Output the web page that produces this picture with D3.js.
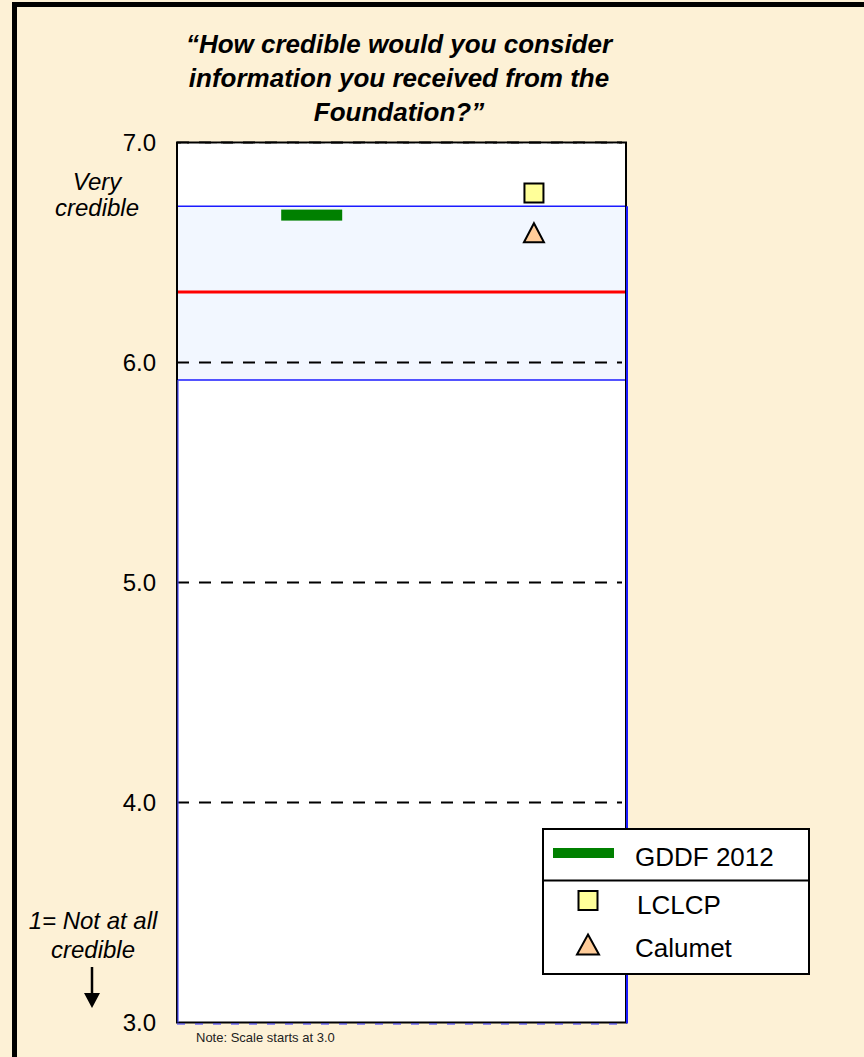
<!DOCTYPE html>
<html>
<head>
<meta charset="utf-8">
<script src="https://cdn.jsdelivr.net/npm/d3@7"></script>
<style>
  html, body { margin: 0; padding: 0; background: #FDF1D6; }
  svg { display: block; font-family: "Liberation Sans", Arial, sans-serif; }
</style>
</head>
<body>
<svg id="chart" width="864" height="1057"></svg>
<script>
// Survey question and scale
const titleLines = ["\u201CHow credible would you consider", "information you received from the", "Foundation?\u201D"];
const yTicks = [3, 4, 5, 6, 7];
const yDomain = [3, 7];

// Foundation result (drawn as a bar) and comparison organisations (markers)
const categories = ["GDDF 2012", "LCLCP", "Calumet"];
const values = [6.67, 6.77, 6.59];
const xSlots = [1.2, 3.18, 3.18];     // horizontal slot of each entry on a 0..4 axis
const markerTypes = ["bar", "square", "triangle"];

// Reference range and average of the comparison set
const rangeBand = [5.92, 6.71];
const averageLine = 6.32;

const svg = d3.select("#chart");

// outer frame
svg.append("rect").attr("x", 14.5).attr("y", 4.5).attr("width", 900).attr("height", 1100)
  .attr("fill", "#FDF1D6").attr("stroke", "#000").attr("stroke-width", 5);

const plot = { left: 177, right: 626, top: 142.5, bottom: 1022.5 };
const y = d3.scaleLinear().domain(yDomain).range([plot.bottom, plot.top]);
const x = d3.scaleLinear().domain([0, 4]).range([plot.left, plot.right]);

// title
svg.append("text")
  .attr("x", 399).attr("y", 53)
  .attr("text-anchor", "middle")
  .attr("font-size", 26).attr("font-weight", "bold").attr("font-style", "italic")
  .selectAll("tspan").data(titleLines).join("tspan")
  .attr("x", 399).attr("dy", (d, i) => i === 0 ? 0 : 34.2)
  .text(d => d);

// plot background
svg.append("rect").attr("x", plot.left).attr("y", plot.top)
  .attr("width", plot.right - plot.left).attr("height", plot.bottom - plot.top)
  .attr("fill", "#fff");

// comparison range band
svg.append("rect")
  .attr("x", plot.left).attr("width", plot.right - plot.left)
  .attr("y", y(rangeBand[1])).attr("height", y(rangeBand[0]) - y(rangeBand[1]))
  .attr("fill", "#F2F7FF");

// dashed gridlines
svg.append("g").selectAll("line").data(yTicks.filter(d => d > 3)).join("line")
  .attr("x1", plot.left).attr("x2", plot.right - 4)
  .attr("y1", d => y(d)).attr("y2", d => y(d))
  .attr("stroke", "#000").attr("stroke-width", 2)
  .attr("stroke-dasharray", "12,10");

// band edges
svg.append("g").selectAll("line").data(rangeBand).join("line")
  .attr("x1", plot.left).attr("x2", plot.right)
  .attr("y1", d => y(d)).attr("y2", d => y(d))
  .attr("stroke", "#1a1aff").attr("stroke-width", 1.5);

// average line
svg.append("line")
  .attr("x1", plot.left).attr("x2", plot.right)
  .attr("y1", y(averageLine)).attr("y2", y(averageLine))
  .attr("stroke", "#FF0000").attr("stroke-width", 3);

// plot frame
svg.append("rect").attr("x", plot.left).attr("y", plot.top)
  .attr("width", plot.right - plot.left).attr("height", plot.bottom - plot.top)
  .attr("fill", "none").attr("stroke", "#000").attr("stroke-width", 2);
svg.append("line")
  .attr("x1", plot.left + 4).attr("x2", plot.right - 2)
  .attr("y1", plot.top + 2).attr("y2", plot.top + 2)
  .attr("stroke", "#fff").attr("stroke-width", 1.5).attr("stroke-dasharray", "6,12").attr("opacity", 0.8);
svg.append("line")
  .attr("x1", plot.right + 1).attr("x2", plot.right + 1)
  .attr("y1", y(rangeBand[1])).attr("y2", plot.bottom + 1)
  .attr("stroke", "#1a1aff").attr("stroke-width", 2);
svg.append("line")
  .attr("x1", plot.left + 1).attr("x2", plot.left + 1)
  .attr("y1", y(rangeBand[0])).attr("y2", plot.bottom)
  .attr("stroke", "#4a4aff").attr("stroke-width", 1.2);
svg.append("line")
  .attr("x1", plot.left).attr("x2", plot.right)
  .attr("y1", plot.bottom + 1.5).attr("y2", plot.bottom + 1.5)
  .attr("stroke", "#2a2aff").attr("stroke-width", 1.2).attr("stroke-dasharray", "8,10");

// y axis labels
const yAxis = d3.axisLeft(y).tickValues(yTicks).tickFormat(d3.format(".1f")).tickSize(0).tickPadding(21);
const gy = svg.append("g").attr("transform", `translate(${plot.left},0)`).call(yAxis);
gy.select(".domain").remove();
gy.selectAll("text").attr("font-size", 24).attr("fill", "#000")
  .attr("font-family", "'Liberation Sans', Arial, sans-serif");

// marks
const symSquare = d3.symbol().type(d3.symbolSquare).size(19 * 19);
const triPath = (w, h) => `M0,${-h / 2}L${w / 2},${h / 2}L${-w / 2},${h / 2}Z`;

categories.forEach((c, i) => {
  const cx = x(xSlots[i]), cy = y(values[i]);
  if (markerTypes[i] === "bar") {
    svg.append("rect").attr("x", cx - 30.5).attr("y", cy - 5.5)
      .attr("width", 61).attr("height", 11).attr("fill", "#008000");
  } else if (markerTypes[i] === "square") {
    svg.append("path").attr("d", symSquare()).attr("transform", `translate(${cx},${cy})`)
      .attr("fill", "#FFFF99").attr("stroke", "#000").attr("stroke-width", 2);
  } else {
    svg.append("path").attr("d", triPath(20, 19)).attr("transform", `translate(${cx},${cy})`)
      .attr("fill", "#FFCC99").attr("stroke", "#000").attr("stroke-width", 2);
  }
});

// left side annotations
const ann = svg.append("g").attr("font-size", 24).attr("font-style", "italic").attr("text-anchor", "middle");
ann.append("text").attr("x", 97).attr("y", 190).text("Very");
ann.append("text").attr("x", 97).attr("y", 216).text("credible");
ann.append("text").attr("x", 93).attr("y", 929).text("1= Not at all");
ann.append("text").attr("x", 93).attr("y", 958).text("credible");
svg.append("line").attr("x1", 92).attr("x2", 92).attr("y1", 967).attr("y2", 995)
  .attr("stroke", "#000").attr("stroke-width", 2.5);
svg.append("path").attr("d", "M84,993L100,993L92,1008Z").attr("fill", "#000");

// note
svg.append("text").attr("x", 196).attr("y", 1042).attr("font-size", 13).attr("fill", "#222")
  .text("Note: Scale starts at 3.0");

// legend
const lg = svg.append("g");
lg.append("rect").attr("x", 543).attr("y", 829).attr("width", 266).attr("height", 145)
  .attr("fill", "#fff").attr("stroke", "#000").attr("stroke-width", 2);
lg.append("line").attr("x1", 543).attr("x2", 809).attr("y1", 880.5).attr("y2", 880.5)
  .attr("stroke", "#000").attr("stroke-width", 2);
lg.append("rect").attr("x", 553).attr("y", 848).attr("width", 61).attr("height", 10).attr("fill", "#008000");
lg.append("path").attr("d", symSquare()).attr("transform", "translate(588,900.5)")
  .attr("fill", "#FFFF99").attr("stroke", "#000").attr("stroke-width", 2);
lg.append("path").attr("d", triPath(22, 20)).attr("transform", "translate(588,944.5)")
  .attr("fill", "#FFCC99").attr("stroke", "#000").attr("stroke-width", 2);
const legText = [[635, 866, categories[0]], [637, 914, categories[1]], [635, 957, categories[2]]];
lg.selectAll("text.leg").data(legText).join("text").attr("class", "leg")
  .attr("x", d => d[0]).attr("y", d => d[1]).attr("font-size", 26).text(d => d[2]);
</script>
</body>
</html>
